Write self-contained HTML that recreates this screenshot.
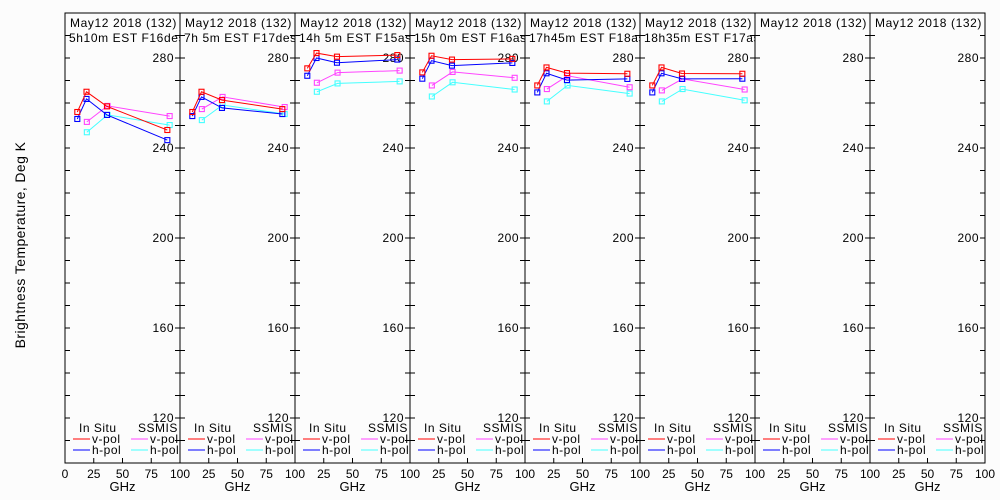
<!DOCTYPE html>
<html><head><meta charset="utf-8"><style>
body{margin:0;background:#fcfcfc}
svg{display:block;font-family:"Liberation Sans",sans-serif}
</style></head><body>
<svg id="c" width="1000" height="500"></svg>
<script>
const titles1 = ["May12 2018 (132)","May12 2018 (132)","May12 2018 (132)","May12 2018 (132)","May12 2018 (132)","May12 2018 (132)","May12 2018 (132)","May12 2018 (132)"];
const titles2 = ["5h10m EST F16des","7h 5m EST F17des","14h 5m EST F15asc","15h 0m EST F16asc","17h45m EST F18asc","18h35m EST F17asc","",""];
const insituFreq = [10.7,18.7,36.5,89];
const ssmisFreq = [19,37,91];
const vInsitu = [[256,265,258.5,248],[256,265,261.3,257.3],[275.4,282.2,280.6,281.3],[273.6,281,279.3,279.6],[267.8,275.8,273.3,273],[267.8,275.8,273.1,273],null,null];
const hInsitu = [[252.9,261.8,254.7,243.5],[254.2,262.7,257.8,255.1],[272.1,280,277.9,279.3],[270.8,278.8,276.6,277.8],[264.7,273.2,270.2,270.7],[264.7,273.2,270.7,270.8],null,null];
const vSsmis = [[251.6,258.7,254.2],[257.3,262.7,258.2],[269,273.5,274.4],[267.8,273.8,271.2],[266.2,272.1,267],[265.6,270.7,266],null,null];
const hSsmis = [[247,254.7,250.2],[252.4,259.1,255.1],[265,268.7,269.6],[262.9,269.2,266],[260.7,267.8,264.2],[260.7,266.2,261.2],null,null];
const yLabels = [120,160,200,240,280];
const xLabels = [0,25,50,75,100];

const svg=document.getElementById('c');
const NS='http://www.w3.org/2000/svg';
function mk(t,a,p){const e=document.createElementNS(NS,t);for(const k in a)e.setAttribute(k,a[k]);(p||svg).appendChild(e);return e;}
const X0=65,PW=115,TOP=13,BOT=463;
function sy(v){return BOT-(v-100)*(BOT-TOP)/200;}
function sx(i,f){return X0+i*PW+f*PW/100;}
const defs=mk('defs',{});
const ylab=mk('text',{x:25,y:245,'font-size':14,'text-anchor':'middle',transform:'rotate(-90 25 245)','letter-spacing':0.4});
ylab.textContent='Brightness Temperature, Deg K';


const colors={v:'#f00',h:'#00f',vs:'#f4f',hs:'#4ff'};
for(let i=0;i<8;i++){
  const g=mk('g',{});
  
  
  const L=X0+i*PW,R=L+PW;
  const cp=mk('clipPath',{id:'cp'+i},defs);
  mk('rect',{x:L,y:TOP,width:PW,height:BOT-TOP},cp);
  mk('rect',{x:L,y:TOP,width:PW,height:BOT-TOP,fill:'none',stroke:'#000','stroke-width':1},g);
  for(let v=110;v<300;v+=10){
    mk('line',{x1:L,x2:L+5,y1:sy(v),y2:sy(v),stroke:'#000'},g);
    mk('line',{x1:R-5,x2:R,y1:sy(v),y2:sy(v),stroke:'#000'},g);
  }
  yLabels.forEach(v=>{const t=mk('text',{x:R-6,y:sy(v)+4,'font-size':12,'text-anchor':'end','letter-spacing':0.5},g);t.textContent=v;});
  xLabels.forEach(v=>{
    mk('line',{x1:sx(i,v),x2:sx(i,v),y1:BOT,y2:BOT-5,stroke:'#000'},g);
    if(i>0&&v==0)return;
    const t=mk('text',{x:sx(i,v),y:478,'font-size':12,'text-anchor':'middle'},g);t.textContent=v;});
  const gx=mk('text',{x:L+PW/2,y:491,'font-size':13,'text-anchor':'middle'},g);gx.textContent='GHz';
  const tg=mk('g',{'clip-path':'url(#cp'+i+')'},g);
  const t1=mk('text',{x:L+5,y:27,'font-size':12,'letter-spacing':0.6},tg);t1.textContent=titles1[i];
  const t2=mk('text',{x:L+4,y:42,'font-size':12,'letter-spacing':0.6},tg);t2.textContent=titles2[i];
  const lg=mk('g',{},g);
  
  
  let a=mk('text',{x:L+14,y:432,'font-size':12,'letter-spacing':0.5},lg);a.textContent='In Situ';
  a=mk('text',{x:L+73,y:432,'font-size':12,'letter-spacing':0.5},lg);a.textContent='SSMIS';
  [['v-pol',colors.v,colors.vs,443],['h-pol',colors.h,colors.hs,454]].forEach(r=>{
    mk('line',{x1:L+8,x2:L+25,y1:r[3]-4,y2:r[3]-4,stroke:r[1]},lg);
    let t=mk('text',{x:L+27,y:r[3],'font-size':12,'letter-spacing':0.5},lg);t.textContent=r[0];
    mk('line',{x1:L+66,x2:L+83,y1:r[3]-4,y2:r[3]-4,stroke:r[2]},lg);
    t=mk('text',{x:L+85,y:r[3],'font-size':12,'letter-spacing':0.5},lg);t.textContent=r[0];
  });
  const series=[[vSsmis[i],ssmisFreq,colors.vs,'ssmis-v-pol'],[hSsmis[i],ssmisFreq,colors.hs,'ssmis-h-pol'],[hInsitu[i],insituFreq,colors.h,'insitu-h-pol'],[vInsitu[i],insituFreq,colors.v,'insitu-v-pol']];
  series.forEach(s=>{
    if(!s[0])return;
    const pts=s[0].map((v,k)=>sx(i,s[1][k]).toFixed(1)+','+sy(v).toFixed(1)).join(' ');
    const pl=mk('polyline',{points:pts,fill:'none',stroke:s[2],'stroke-width':1},g);
    
    
    s[0].forEach((v,k)=>{
      const m=mk('rect',{x:sx(i,s[1][k])-2.5,y:sy(v)-2.5,width:5,height:5,fill:'none',stroke:s[2],'stroke-width':1.1},g);
      
      
    });
  });
}
</script>
</body></html>
